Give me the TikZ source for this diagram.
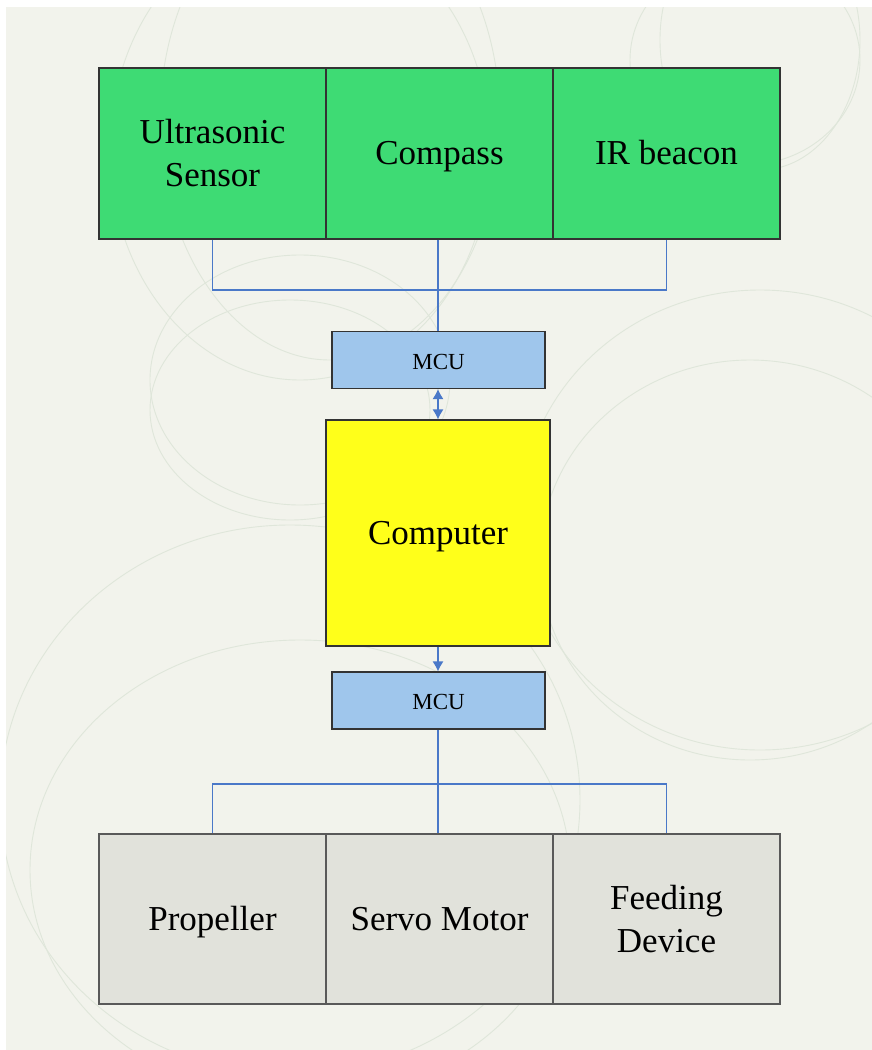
\documentclass[tikz,border=0pt]{standalone}
\usepackage{fontspec}
\setmainfont{Liberation Serif}
\usetikzlibrary {arrows.meta, positioning}
\definecolor{paper}{HTML}{F2F3EC}
\definecolor{swirl}{HTML}{DFE6DA}
\definecolor{sensorgreen}{HTML}{3EDB74}
\definecolor{mcublue}{HTML}{9FC6EC}
\definecolor{pcyellow}{HTML}{FFFF1A}
\definecolor{actgray}{HTML}{E1E2DB}
\definecolor{wire}{HTML}{4A78C8}
\tikzset{
    >={Latex[length=10pt, width=11pt]},
    block/.style={draw=black!80, line width=1.1pt, inner sep=0pt, align=center,
        font=\fontsize{35}{43}\selectfont},
    oneline/.style={text height=28pt, text depth=6pt},
    sensor/.style={block, fill=sensorgreen, minimum width=227pt, minimum height=171pt},
    actor/.style={block, fill=actgray, draw=black!65, minimum width=227pt, minimum height=170pt},
    mcu/.style={block, fill=mcublue, minimum width=213pt, minimum height=57pt,
        text height=20pt, text depth=2pt, font=\fontsize{23}{27}\selectfont},
    wireline/.style={draw=wire, line width=1.2pt}
}
\begin{document}
\begin{tikzpicture}[x=1pt, y=-1pt]
\useasboundingbox (0,0) rectangle (872,1050);
% background
\fill[white] (0,0) rectangle (872,1050);
\fill[paper] (6,7) rectangle (872,1050);
\begin{scope}[swirl, line width=0.9pt]
    \clip (6,7) rectangle (872,1050);
    \draw (300,150) circle [x radius=190, y radius=230];
    \draw (330,120) circle [x radius=170, y radius=240];
    \draw (300,380) circle [x radius=150, y radius=125];
    \draw (290,410) circle [x radius=140, y radius=110];
    \draw (745,60) circle [x radius=115, y radius=105];
    \draw (760,40) circle [x radius=100, y radius=130];
    \draw (760,520) circle [x radius=240, y radius=230];
    \draw (750,560) circle [x radius=210, y radius=200];
    \draw (290,800) circle [x radius=290, y radius=275];
    \draw (300,870) circle [x radius=270, y radius=230];
\end{scope}

% sensors (upper row)
\node[sensor] (ultra) at (212.5,153.5) {Ultrasonic\\Sensor};
\node[sensor, oneline] (compass) at (439.5,153.5) {Compass};
\node[sensor, oneline] (ir) at (666.5,153.5) {IR beacon};

% middle
\node[mcu] (mcuin) at (438.5,360) {MCU};
\node[block, oneline, fill=pcyellow, minimum width=224pt, minimum height=226pt] (pc) at (438,533) {Computer};
\node[mcu] (mcuout) at (438.5,700.5) {MCU};

% actuators (lower row)
\node[actor, oneline] (prop) at (212.5,919) {Propeller};
\node[actor, oneline] (servo) at (439.5,919) {Servo Motor};
\node[actor] (feed) at (666.5,919) {Feeding\\Device};

% bus lines
\coordinate (busin) at (438,290);
\coordinate (busout) at (438,784);
\draw[wireline] (ultra.south) |- (busin) -| (ir.south);
\draw[wireline] (compass.south -| busin) -- (busin);
\draw[wireline] (busin) -- (mcuin.north -| busin);
\draw[wireline] (prop.north) |- (busout) -| (feed.north);
\draw[wireline] (servo.north -| busout) -- (busout);
\draw[wireline] (busout) -- (mcuout.south -| busout);

% arrows
\draw[wireline, <->] (mcuin.south -| busin) -- (pc.north -| busin);
\draw[wireline, ->] (pc.south -| busin) -- (mcuout.north -| busin);
\end{tikzpicture}
\end{document}
